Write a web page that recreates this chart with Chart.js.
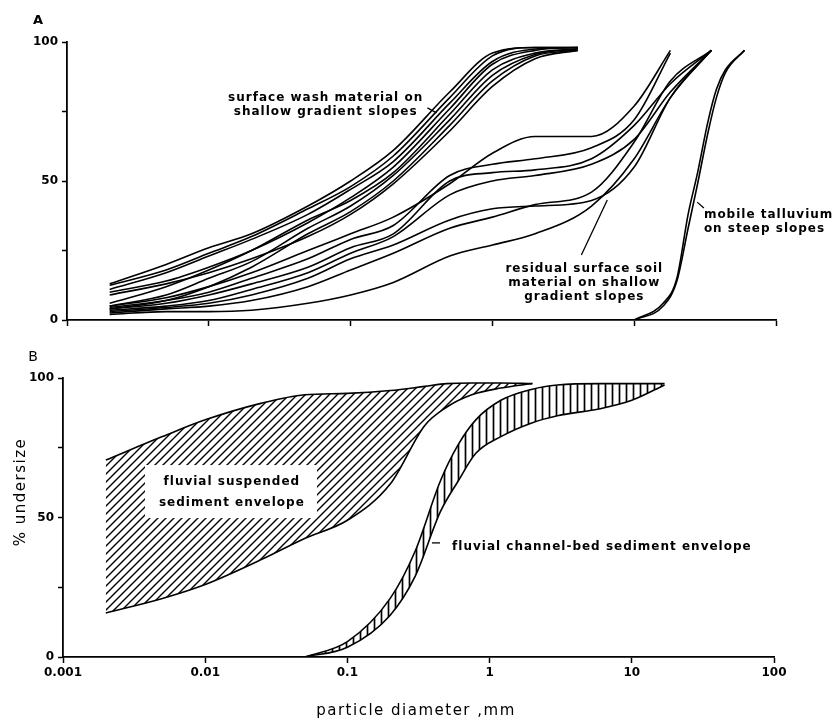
<!DOCTYPE html>
<html>
<head>
<meta charset="utf-8">
<script src="https://cdn.jsdelivr.net/npm/chart.js@4/dist/chart.umd.min.js"></script>
<style>
  body { margin: 0; background: #fff; }
  canvas { position: absolute; left: 0; }
  #chartA { top: 0; }
  #chartB { top: 340px; }
</style>
</head>
<body>
<canvas id="chartA" width="839" height="340"></canvas>
<canvas id="chartB" width="839" height="382"></canvas>
<script>
// ---- data (particle diameter in mm, % undersize) ----
const xTickValues = [0.001, 0.01, 0.1, 1, 10, 100];
const xTickLabels = ['0.001', '0.01', '0.1', '1', '10', '100'];
const yTickValues = [0, 25, 50, 75, 100];
const yTickLabels = ['0', '', '50', '', '100'];

// A: surface wash material on shallow gradient slopes
const washSizes = [0.002, 0.005, 0.01, 0.02, 0.05, 0.1, 0.2, 0.5, 1, 2, 4];
const washCurves = [
  [13, 20, 26, 31, 41, 50, 61, 82, 96, 98, 98],
  [12.5, 18, 24, 30, 40, 48, 59, 80, 95, 98, 98],
  [11, 17, 23, 29, 38, 47, 57, 78, 93, 97.5, 98],
  [10, 14, 19, 25, 35, 44, 55, 76, 92, 97, 98],
  [6, 12, 18, 25, 36, 43, 53, 74, 90, 96, 97.5],
  [5, 9, 15, 21, 33, 41, 52, 72, 88, 95.5, 97.5],
  [4, 7, 12, 19, 31, 39, 50, 70, 86, 95, 97],
  [9, 13, 17, 22, 30, 38, 49, 68, 84, 94, 97]
];

// A: residual surface soil material on shallow gradient slopes
const residualSizes = [0.002, 0.005, 0.01, 0.02, 0.05, 0.1, 0.2, 0.5, 1, 2, 5, 10, 18, 35];
const residualCurves = [
  [5, 8, 12, 17, 25, 31, 37, 49, 60, 66, 66, 77, 97, null],
  [4.5, 7, 10, 15, 22, 29, 34, 52, 56, 58, 62, 72, 96, null],
  [4, 6, 9, 13, 19, 26, 31, 50, 53, 54, 58, 70, 85, 97],
  [3.5, 5, 7, 11, 17, 24, 30, 45, 50, 52, 56, 65, 82, 97],
  [3, 4.5, 6, 9, 15, 22, 27, 36, 40, 41, 43, 55, 80, 97],
  [2.5, 4, 5, 7, 12, 18, 24, 33, 37, 41.5, 46, 64, 86, 97],
  [2, 3, 3, 3.5, 6, 9, 13.5, 23, 27, 31, 41, 58, 80, 97]
];

// A: mobile talluvium on steep slopes
const talusSizes = [10, 16, 20, 24, 28, 33, 38, 44, 60];
const talusCurves = [
  [0, 6, 15, 38, 53, 71, 83, 90, 97],
  [0, 5, 14, 33, 49, 67, 80, 89, 97]
];

// B: fluvial suspended sediment envelope
const suspSizes = [0.002, 0.005, 0.01, 0.025, 0.05, 0.1, 0.2, 0.35, 0.5, 0.75, 1.2, 2];
const suspUpper = [70.6, 79, 85, 91, 94, 94.5, 95.5, 97, 98, 98.2, 98.2, 98];
const suspLower = [15.8, 21, 26, 35, 42.5, 49, 62, 83, 89.6, 94, 96.4, 98];

// B: fluvial channel-bed sediment envelope
const chanSizes = [0.05, 0.1, 0.2, 0.3, 0.45, 0.6, 0.8, 1.2, 2, 3, 6, 10, 17];
const chanUpper = [0, 5.5, 21, 38, 63, 76, 85, 92, 96, 97.5, 98, 98, 98];
const chanLower = [0, 3.5, 15, 29, 52, 63, 73, 79, 84, 86.5, 89, 92, 97.5];

const TXT = 'bold 12px "DejaVu Sans"';

function pairs(sizes, vals) {
  return sizes.map((d, i) => ({ x: d, y: vals[i] })).filter(p => p.y !== null);
}

function lineSet(data, extra) {
  return Object.assign({
    data: data,
    borderColor: '#000',
    borderWidth: 1.6,
    pointRadius: 0,
    fill: false,
    cubicInterpolationMode: 'monotone'
  }, extra || {});
}

function hatch(ctx, kind) {
  const c = document.createElement('canvas');
  const n = kind === 'diag' ? 8 : 7;
  c.width = n; c.height = n;
  const g = c.getContext('2d');
  g.strokeStyle = '#000';
  g.lineWidth = kind === 'diag' ? 1.4 : 1.7;
  g.beginPath();
  if (kind === 'diag') {
    g.moveTo(-1, n + 1); g.lineTo(n + 1, -1);
    g.moveTo(-2, 2); g.lineTo(2, -2);
    g.moveTo(n - 2, n + 2); g.lineTo(n + 2, n - 2);
  } else {
    g.moveTo(n / 2, 0); g.lineTo(n / 2, n);
  }
  g.stroke();
  return ctx.createPattern(c, 'repeat');
}

function makeScales(showLabels, yWidth, xHeight) {
  return {
    x: {
      type: 'logarithmic', min: 0.001, max: 100,
      afterBuildTicks: s => { s.ticks = xTickValues.map(v => ({ value: v })); },
      afterFit: s => { s.height = xHeight; },
      ticks: {
        display: showLabels, color: '#000', font: { family: 'DejaVu Sans', size: 12, weight: 'bold' },
        padding: 3, maxRotation: 0, autoSkip: false,
        callback: (v, i) => xTickLabels[i]
      },
      grid: { drawOnChartArea: false, drawTicks: true, tickLength: 6, tickColor: '#000', tickWidth: 1.5 },
      border: { display: true, color: '#000', width: 1.8 }
    },
    y: {
      type: 'linear', min: 0, max: 100,
      afterBuildTicks: s => { s.ticks = yTickValues.map(v => ({ value: v })); },
      afterFit: s => { s.width = yWidth; },
      ticks: {
        color: '#000', font: { family: 'DejaVu Sans', size: 12, weight: 'bold' }, padding: 4,
        callback: (v, i) => yTickLabels[i]
      },
      grid: { drawOnChartArea: false, drawTicks: true, tickLength: 5, tickColor: '#000', tickWidth: 1.5 },
      border: { display: true, color: '#000', width: 1.8 }
    }
  };
}

// annotations: text blocks and leader lines in data coordinates, free text in canvas pixels
const notes = {
  id: 'notes',
  afterDraw(chart, args, o) {
    const ctx = chart.ctx;
    const px = d => chart.scales.x.getPixelForValue(d);
    const py = v => chart.scales.y.getPixelForValue(v);
    ctx.save();
    (o.boxes || []).forEach(b => {
      ctx.fillStyle = '#fff';
      ctx.fillRect(px(b[0]), py(b[2]), px(b[1]) - px(b[0]), py(b[3]) - py(b[2]));
    });
    ctx.strokeStyle = '#000';
    ctx.lineWidth = 1.3;
    (o.leaders || []).forEach(l => {
      ctx.beginPath();
      ctx.moveTo(px(l[0][0]), py(l[0][1]));
      ctx.lineTo(px(l[1][0]), py(l[1][1]));
      ctx.stroke();
    });
    ctx.fillStyle = '#000';
    ctx.textBaseline = 'middle';
    (o.texts || []).forEach(t => {
      ctx.font = t.font || TXT;
      ctx.letterSpacing = t.spacing || '1px';
      ctx.textAlign = t.align || 'center';
      t.lines.forEach((s, i) => {
        ctx.fillText(s, px(t.at[0]), py(t.at[1]) + i * (t.gap || 14));
      });
    });
    (o.free || []).forEach(t => {
      ctx.save();
      ctx.font = t.font;
      ctx.letterSpacing = t.spacing || '0px';
      ctx.textAlign = 'center';
      ctx.translate(t.pos[0], t.pos[1]);
      if (t.rotate) ctx.rotate(t.rotate);
      ctx.fillText(t.text, 0, 0);
      ctx.restore();
    });
    ctx.restore();
  }
};

const baseOpts = {
  responsive: false,
  animation: false,
  events: [],
  plugins: { legend: { display: false }, tooltip: { enabled: false } }
};

// ---- panel A ----
const setsA = [];
washCurves.forEach(c => setsA.push(lineSet(pairs(washSizes, c))));
residualCurves.forEach(c => setsA.push(lineSet(pairs(residualSizes, c))));
talusCurves.forEach(c => setsA.push(lineSet(pairs(talusSizes, c))));

new Chart(document.getElementById('chartA'), {
  type: 'line',
  data: { datasets: setsA },
  plugins: [notes],
  options: Object.assign({}, baseOpts, {
    layout: { padding: { left: 0, top: 42, right: 63, bottom: 0 } },
    scales: makeScales(false, 67, 20),
    plugins: Object.assign({}, baseOpts.plugins, {
      notes: {
        texts: [
          { at: [0.0667, 80], lines: ['surface wash material on', 'shallow gradient slopes'] },
          { at: [4.45, 18.3], lines: ['residual surface soil', 'material on shallow', 'gradient slopes'] },
          { at: [31, 37.8], lines: ['mobile talluvium', 'on steep slopes'], align: 'left' }
        ],
        leaders: [
          [[0.348, 76.3], [0.404, 74.5]],
          [[4.24, 23.4], [6.46, 43.2]],
          [[27.8, 42.4], [31, 40.3]]
        ],
        free: [
          { text: 'A', pos: [38, 21], font: 'bold 13px "DejaVu Sans"' }
        ]
      }
    })
  })
});

// ---- panel B ----
const ctxB = document.getElementById('chartB').getContext('2d');
new Chart(ctxB, {
  type: 'line',
  data: {
    datasets: [
      lineSet(pairs(suspSizes, suspUpper), { fill: '+1', backgroundColor: hatch(ctxB, 'diag') }),
      lineSet(pairs(suspSizes, suspLower)),
      lineSet(pairs(chanSizes, chanUpper), { fill: '+1', backgroundColor: hatch(ctxB, 'vert') }),
      lineSet(pairs(chanSizes, chanLower))
    ]
  },
  plugins: [notes],
  options: Object.assign({}, baseOpts, {
    layout: { padding: { left: 0, top: 38, right: 65, bottom: 0 } },
    scales: makeScales(true, 63, 65),
    plugins: Object.assign({}, baseOpts.plugins, {
      notes: {
        boxes: [[0.00377, 0.0611, 68.8, 49.8]],
        texts: [
          { at: [0.0154, 62.7], lines: ['fluvial suspended', 'sediment envelope'], gap: 21 },
          { at: [0.545, 39.4], lines: ['fluvial channel-bed sediment envelope'], align: 'left' }
        ],
        leaders: [
          [[0.393, 40.9], [0.448, 40.9]]
        ],
        free: [
          { text: 'B', pos: [33, 17], font: '14px "DejaVu Sans"' },
          { text: 'particle diameter ,mm', pos: [416, 371], font: '15px "DejaVu Sans"', spacing: '1.5px' },
          { text: '% undersize', pos: [21, 152], font: '15px "DejaVu Sans"', spacing: '1.5px', rotate: -Math.PI / 2 }
        ]
      }
    })
  })
});
</script>
</body>
</html>
